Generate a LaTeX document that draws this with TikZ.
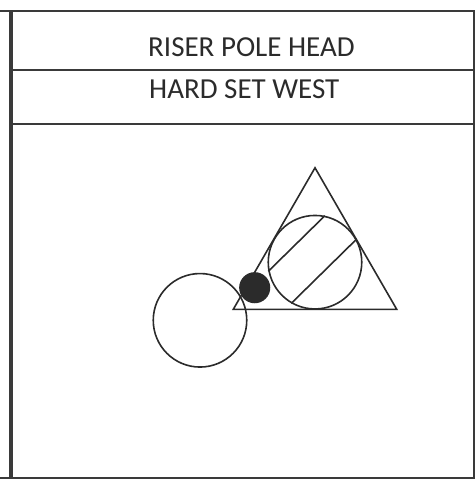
\documentclass[tikz,border=0pt]{standalone}
\usepackage{fontspec}
\setmainfont{Carlito}
\usetikzlibrary{positioning}
\definecolor{ink}{HTML}{2B2B2B}
\definecolor{rule}{HTML}{3A3A3A}
\tikzset{
  frameline/.style={rule,line width=2pt},
  ring/.style={circle,draw=ink,line width=1.6pt,inner sep=0pt},
  title/.style={anchor=base west,inner sep=0pt,text=ink,font=\fontsize{29}{34}\selectfont}
}
\begin{document}
\begin{tikzpicture}[x=1pt,y=-1pt]
\useasboundingbox (0,0) rectangle (475,486);
% frame
\draw[frameline] (0,11) -- (474,11) -- (474,477.5) -- (0,477.5);
\draw[frameline] (11,70) -- (474,70);
\draw[frameline] (11,124) -- (474,124);
\draw[rule,line width=3.2pt] (11,11) -- (11,477.5);
\node[title] (head) at (148,56.5) {RISER POLE HEAD};
\node[title] (set) at (149,99) {HARD SET WEST};
% symbol
\draw[ink,line width=1.6pt,line join=miter] (315,167.8) -- (233.3,309.3) -- (396.7,309.3) -- cycle;
\node[ring,minimum size=93.5pt] (big) at (315,262.2) {};
\node[ring,minimum size=93.5pt] (left) at (200,320.3) {};
\node[ring,fill=ink,minimum size=29.5pt] (dot) at (254.7,287.7) {};
\draw[ink,line width=1.6pt] (big.78.6) -- (big.191.4);
\draw[ink,line width=1.6pt] (big.29.6) -- (big.240.4);
\end{tikzpicture}
\end{document}
